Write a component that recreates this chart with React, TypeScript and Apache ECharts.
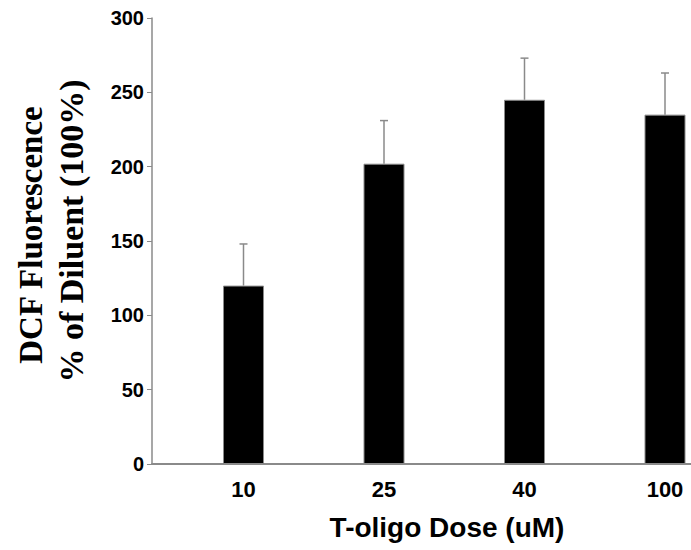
import React, { useEffect, useRef } from "react";
import * as echarts from "echarts";

const categories = ["10", "25", "40", "100"];
const means = [120, 202, 245, 235];
const errors = [28, 29, 28, 28];
const yTicks = { min: 0, max: 300, interval: 50 };

export default function App() {
  const ref = useRef<HTMLDivElement>(null);
  useEffect(() => {
    if (!ref.current) return;
    const chart = echarts.init(ref.current, null, { renderer: "svg" });
    const grey = "#8a8a8a";
    const option: any = {
      animation: false,
      backgroundColor: "#ffffff",
      grid: [
        { left: 243.5, top: 18, width: 421.5, height: 446 },
        { left: 152, top: 18, right: 0, height: 446 },
      ],
      xAxis: [
        {
          type: "category",
          gridIndex: 0,
          boundaryGap: false,
          data: categories,
          axisLine: { show: false },
          axisTick: { show: false },
          axisLabel: {
            color: "#000",
            fontFamily: "Liberation Sans, Arial",
            fontWeight: "bold",
            fontSize: 22,
            margin: 14,
          },
        },
        {
          type: "value",
          gridIndex: 1,
          min: 0,
          max: 1,
          axisLine: { show: true, lineStyle: { color: grey, width: 2 } },
          axisTick: { show: false },
          axisLabel: { show: false },
          splitLine: { show: false },
        },
      ],
      yAxis: [
        {
          type: "value",
          gridIndex: 0,
          min: yTicks.min,
          max: yTicks.max,
          interval: yTicks.interval,
          offset: 91.5,
          axisLine: { show: true, lineStyle: { color: grey, width: 1.5 } },
          axisTick: { show: true, inside: false, length: 5, lineStyle: { color: grey } },
          axisLabel: {
            color: "#000",
            fontFamily: "Liberation Sans, Arial",
            fontWeight: "bold",
            fontSize: 20,
            margin: 8,
          },
          splitLine: { show: false },
        },
        {
          type: "value",
          gridIndex: 1,
          min: 0,
          max: 1,
          show: false,
        },
      ],
      series: [
        {
          type: "bar",
          xAxisIndex: 0,
          yAxisIndex: 0,
          data: means,
          barWidth: 41,
          itemStyle: { color: "#000", borderColor: grey, borderWidth: 1 },
        },
        {
          type: "custom",
          xAxisIndex: 0,
          yAxisIndex: 0,
          data: means.map((m, i) => [i, m, m + errors[i]]),
          renderItem: (params: any, api: any) => {
            const x = api.value(0);
            const bottom = api.coord([x, api.value(1)]);
            const top = api.coord([x, api.value(2)]);
            const hw = 4;
            return {
              type: "group",
              children: [
                {
                  type: "line",
                  shape: { x1: top[0], y1: top[1], x2: bottom[0], y2: bottom[1] },
                  style: { stroke: grey, lineWidth: 1.5 },
                },
                {
                  type: "line",
                  shape: { x1: top[0] - hw, y1: top[1], x2: top[0] + hw, y2: top[1] },
                  style: { stroke: grey, lineWidth: 1.5 },
                },
              ],
            };
          },
          z: 1,
        },
      ],
      graphic: [
        {
          type: "text",
          x: 447,
          y: 527,
          style: {
            text: "T-oligo Dose (uM)",
            align: "center",
            verticalAlign: "middle",
            fill: "#000",
            font: "bold 28px 'Liberation Sans', Arial",
          },
        },
        {
          type: "text",
          x: 31,
          y: 235,
          rotation: Math.PI / 2,
          style: {
            text: "DCF Fluorescence",
            align: "center",
            verticalAlign: "middle",
            fill: "#000",
            font: "bold 33px 'Liberation Serif', 'Times New Roman', serif",
          },
        },
        {
          type: "text",
          x: 71,
          y: 231,
          rotation: Math.PI / 2,
          style: {
            text: "% of Diluent (100%)",
            align: "center",
            verticalAlign: "middle",
            fill: "#000",
            font: "bold 34px 'Liberation Serif', 'Times New Roman', serif",
          },
        },
      ],
    };
    chart.setOption(option);
    return () => chart.dispose();
  }, []);
  return (
    <div
      ref={ref}
      style={{ position: "fixed", left: 0, top: 0, width: 691, height: 550 }}
    />
  );
}
